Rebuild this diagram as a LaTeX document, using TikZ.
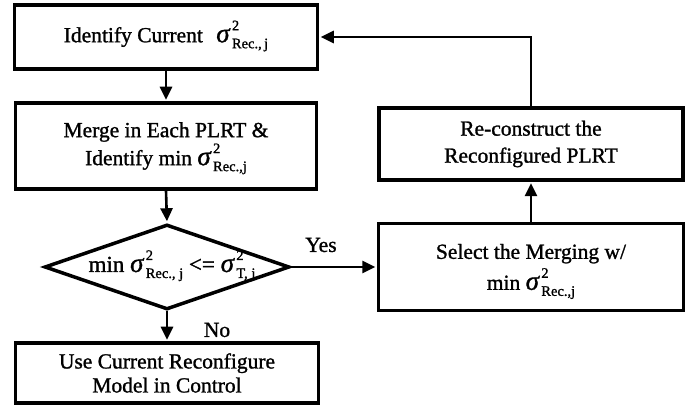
\documentclass[tikz,border=0pt]{standalone}
\usepackage{fontspec}
\setmainfont{Liberation Serif}[FakeBold=1.2]
\usetikzlibrary{arrows.meta,shapes.geometric}
% small size for indices
\newcommand\idxsz{\fontsize{14.5}{14.5}\selectfont}
% sigma with stacked superscript and subscript, in the text font
\newcommand\sgm[2]{{\fontsize{27}{27}\selectfont\textit{σ}}\hspace{1.5pt}\makebox[0pt][l]{\smash{\raisebox{12pt}{\idxsz #1}}}\smash{\raisebox{-6pt}{\idxsz #2}}}
\begin{document}
\begin{tikzpicture}[x=1pt,y=1pt,
  font=\fontsize{21.5}{24}\selectfont,
  box/.style={draw, line width=3.5pt, inner sep=0pt, align=center},
  link/.style={line width=2.6pt, -{Triangle[length=13pt,width=12pt]}, shorten >=1.5pt}]
\fill[white] (0,0) rectangle (689,417);
\useasboundingbox (0,0) rectangle (689,417);

% left column
\node[box, minimum width=303pt, minimum height=64pt] (ident) at (166,380)
  {Identify Current\hspace{8pt} \sgm{2}{Rec.,\,j}};
\node[box, minimum width=301pt, minimum height=86pt] (merge) at (166,271)
  {Merge in Each PLRT \&\\[4pt] Identify min \sgm{2}{Rec.,j}};
\node[draw, diamond, line width=3.5pt, inner sep=0pt, minimum width=245pt, minimum height=85pt] (dec) at (167,150) {};
\node[anchor=base, inner sep=0pt, font=\fontsize{23}{26}\selectfont] (dectext) at ([xshift=5pt,yshift=-5pt]dec.center)
  {min \sgm{2}{Rec., j} <= \sgm{2}{T, j}};
\node[box, minimum width=303pt, minimum height=60pt] (use) at (167,44)
  {Use Current Reconfigure\\ Model in Control};

% right column
\node[box, minimum width=305pt, minimum height=87pt] (select) at (531,150)
  {Select the Merging w/\\[7pt] min \sgm{2}{Rec.,j}};
\node[box, minimum width=304pt, minimum height=72pt] (rec) at (531,273)
  {Re-construct the\\[3pt] Reconfigured PLRT};

% branch labels
\node (yes) at (321,172) {Yes};
\node (no) at (217,87) {No};

% connectors
\draw[link] (ident.south) -- (merge.north);
\draw[link] (merge.south) -- (dec.north);
\draw[link] (dec.south) -- (use.north);
\draw[link] (dec.east) -- (select.west);
\draw[link] (select.north) -- (rec.south);
\draw[link] (rec.north) |- (ident.east);
\end{tikzpicture}
\end{document}
